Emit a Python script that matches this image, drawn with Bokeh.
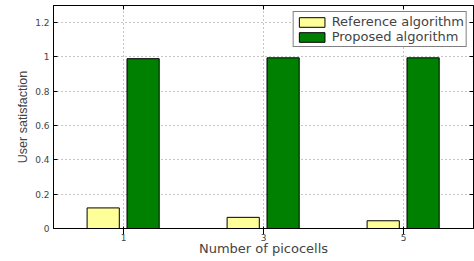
from bokeh.plotting import figure
from bokeh.models import FixedTicker, LinearAxis, Range1d, ColumnDataSource, Legend, LegendItem
from bokeh.transform import dodge
from bokeh.embed import file_html
from bokeh.resources import INLINE

# data
picocells = [1, 3, 5]
reference_alg = [0.12, 0.065, 0.045]
proposed_alg = [0.99, 0.995, 0.995]
yticks = [0, 0.2, 0.4, 0.6, 0.8, 1.0, 1.2]
ytick_labels = ["0", "0.2", "0.4", "0.6", "0.8", "1", "1.2"]
xtick_labels = ["1", "3", "5"]

src = ColumnDataSource(dict(x=picocells, ref=reference_alg, prop=proposed_alg))

p = figure(width=474, height=261, output_backend="svg", toolbar_location=None,
           x_range=Range1d(0, 6), y_range=Range1d(0, 1.3),
           min_border_left=53, min_border_right=1, min_border_top=5, min_border_bottom=33,
           margin=(0, 0, 0, 0))
p.background_fill_color = "white"
p.border_fill_color = "white"
p.outline_line_color = "black"
p.outline_line_width = 1

r1 = p.vbar(x=dodge('x', -0.29, range=None), top='ref', width=0.46, source=src,
            fill_color="#FFFF99", line_color="black", line_width=1)
r2 = p.vbar(x=dodge('x', 0.28, range=None), top='prop', width=0.46, source=src,
            fill_color="#008000", line_color="black", line_width=1)

xt = FixedTicker(ticks=picocells)
yt = FixedTicker(ticks=yticks)

for ax in p.xaxis:
    ax.ticker = xt
    ax.major_label_overrides = {v: l for v, l in zip(picocells, xtick_labels)}
    ax.axis_label = "Number of picocells"
    ax.axis_label_text_font = "DejaVu Sans"
    ax.axis_label_text_font_size = "13px"
    ax.axis_label_text_font_style = "normal"
    ax.axis_label_standoff = -3
    ax.major_label_text_font = "DejaVu Sans"
    ax.major_label_text_font_size = "9px"
    ax.major_label_standoff = -1
for ax in p.yaxis:
    ax.ticker = yt
    ax.major_label_overrides = {v: l for v, l in zip(yticks, ytick_labels)}
    ax.axis_label = "User satisfaction"
    ax.axis_label_text_font = "Liberation Sans"
    ax.axis_label_text_font_size = "12.5px"
    ax.axis_label_text_font_style = "normal"
    ax.axis_label_standoff = 2
    ax.major_label_text_font = "DejaVu Sans"
    ax.major_label_text_font_size = "9px"
    ax.major_label_standoff = 4

top_ax = LinearAxis(ticker=xt, major_label_overrides={v: "" for v in picocells})
right_ax = LinearAxis(ticker=yt, major_label_overrides={v: "" for v in yticks})
p.add_layout(top_ax, "above")
p.add_layout(right_ax, "right")

for ax in [p.xaxis[0], p.yaxis[0], top_ax, right_ax]:
    ax.major_tick_in = 4
    ax.major_tick_out = 0
    ax.minor_tick_line_color = None
    ax.axis_line_color = "black"
    ax.major_tick_line_color = "black"
for ax in [top_ax, right_ax]:
    ax.major_label_standoff = 0
    ax.major_label_text_font_size = "1px"

p.xgrid.ticker = xt
p.ygrid.ticker = yt
for g in [p.xgrid[0], p.ygrid[0]]:
    g.grid_line_color = "#8c8c8c"
    g.grid_line_dash = "1 3"
    g.grid_line_width = 1

legend = Legend(items=[LegendItem(label="Reference algorithm", renderers=[r1]),
                       LegendItem(label="Proposed algorithm", renderers=[r2])],
                location="top_right")
legend.border_line_color = "black"
legend.border_line_width = 1
legend.background_fill_alpha = 1
legend.label_text_font = "DejaVu Sans"
legend.label_text_font_size = "13px"
legend.glyph_width = 32
legend.glyph_height = 12
legend.label_height = 12
legend.label_standoff = 4
legend.spacing = 0
legend.padding = 2
legend.margin = 6
p.add_layout(legend, "center")

open("out.html", "w").write(file_html(p, INLINE))
